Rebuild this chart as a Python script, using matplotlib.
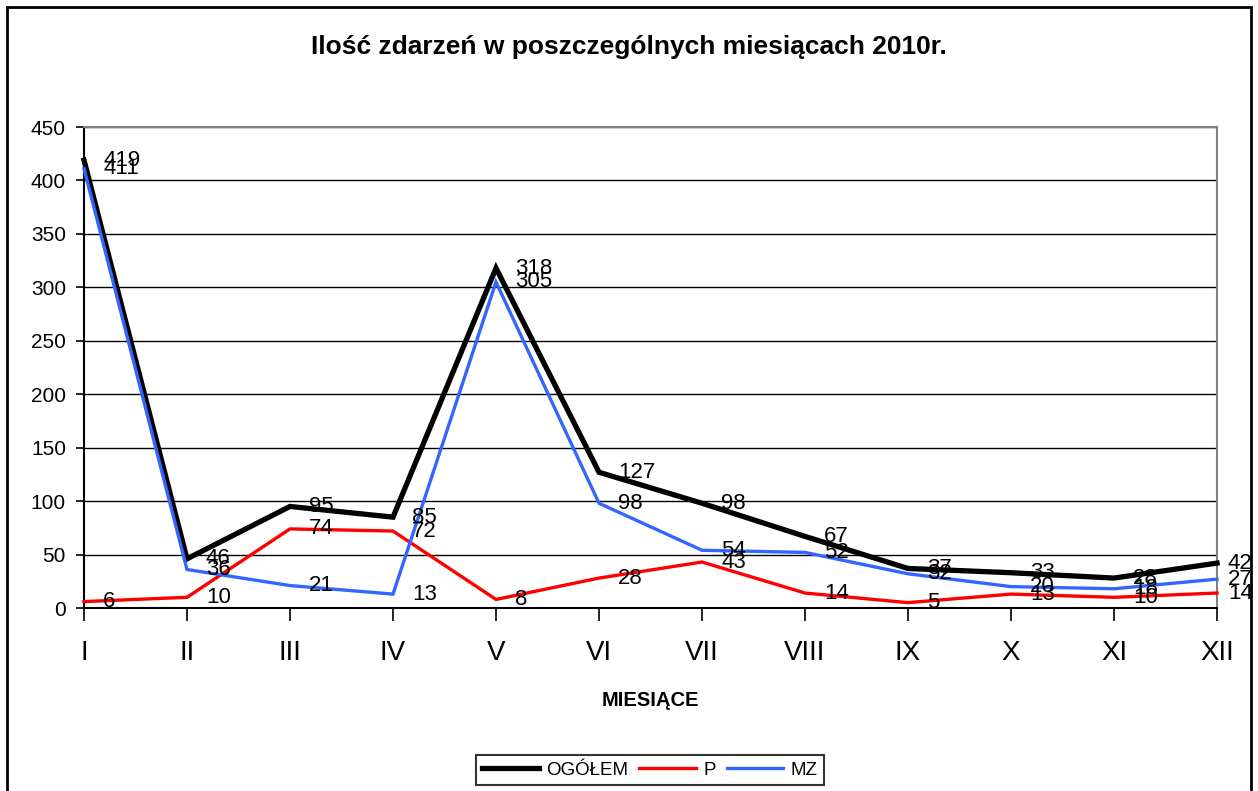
import matplotlib
matplotlib.use("Agg")
import matplotlib.pyplot as plt
from matplotlib.patches import Rectangle

plt.rcParams["font.family"] = ["Liberation Sans", "DejaVu Sans"]

# dane z wykresu
miesiace = ["I", "II", "III", "IV", "V", "VI", "VII", "VIII", "IX", "X", "XI", "XII"]
ogolem = [419, 46, 95, 85, 318, 127, 98, 67, 37, 33, 28, 42]
p = [6, 10, 74, 72, 8, 28, 43, 14, 5, 13, 10, 14]
mz = [411, 36, 21, 13, 305, 98, 54, 52, 32, 20, 18, 27]

serie = [
    ("OGÓŁEM", ogolem, "#000000", 3.8),
    ("P", p, "#FF0000", 2.4),
    ("MZ", mz, "#3366FF", 2.4),
]

W, H = 1258, 791
fig = plt.figure(figsize=(W / 100, H / 100), dpi=100)
ax = fig.add_axes([84 / W, 1 - 608 / H, (1217 - 84) / W, (608 - 127) / H])

x = list(range(len(miesiace)))
for i, (nazwa, wart, kolor, lw) in enumerate(serie):
    ax.plot(x, wart, color=kolor, lw=lw, label=nazwa, zorder=3 + i,
            solid_joinstyle="miter", clip_on=False)
    for j, v in enumerate(wart):
        dx = 11 if j == len(wart) - 1 else 19
        ax.annotate(str(v), (j, v), xytext=(dx * 0.72, 0), textcoords="offset points",
                    ha="left", va="center", fontsize=16, zorder=10)

ax.set_xlim(0, len(miesiace) - 1)
ax.set_ylim(0, 450)
ax.set_yticks(range(0, 451, 50))
ax.set_xticks(x)
ax.set_xticklabels(miesiace, fontsize=20)
ax.tick_params(axis="y", labelsize=15, length=6, width=1.2, pad=7)
ax.tick_params(axis="x", length=9, width=1.2, pad=14)
ax.grid(axis="y", color="black", lw=1.0)
ax.set_axisbelow(True)

for s in ["top", "right"]:
    ax.spines[s].set_color("#808080")
    ax.spines[s].set_linewidth(1.5)
for s in ["left", "bottom"]:
    ax.spines[s].set_color("black")
    ax.spines[s].set_linewidth(1.5)

ax.set_xlabel("MIESIĄCE", fontsize=14.5, fontweight="bold", labelpad=18)

fig.text(0.5, 1 - 47 / H, "Ilość zdarzeń w poszczególnych miesiącach 2010r.",
         ha="center", va="center", fontsize=19, fontweight="bold")

leg = fig.legend(loc="center", bbox_to_anchor=(650 / W, 1 - 770 / H), ncol=3,
                 fontsize=13.5, frameon=True, fancybox=False, handlelength=3.0,
                 handletextpad=0.4, columnspacing=0.6, borderpad=0.35)
leg.get_frame().set_edgecolor("black")
leg.get_frame().set_linewidth(1.5)

# ramka wokół całego wykresu
fig.patches.append(Rectangle((7 / W, -0.05), (1251 - 7) / W, 1.05 - 7 / H,
                             transform=fig.transFigure, fill=False,
                             edgecolor="black", lw=2))

fig.savefig("out.png", dpi=100)
